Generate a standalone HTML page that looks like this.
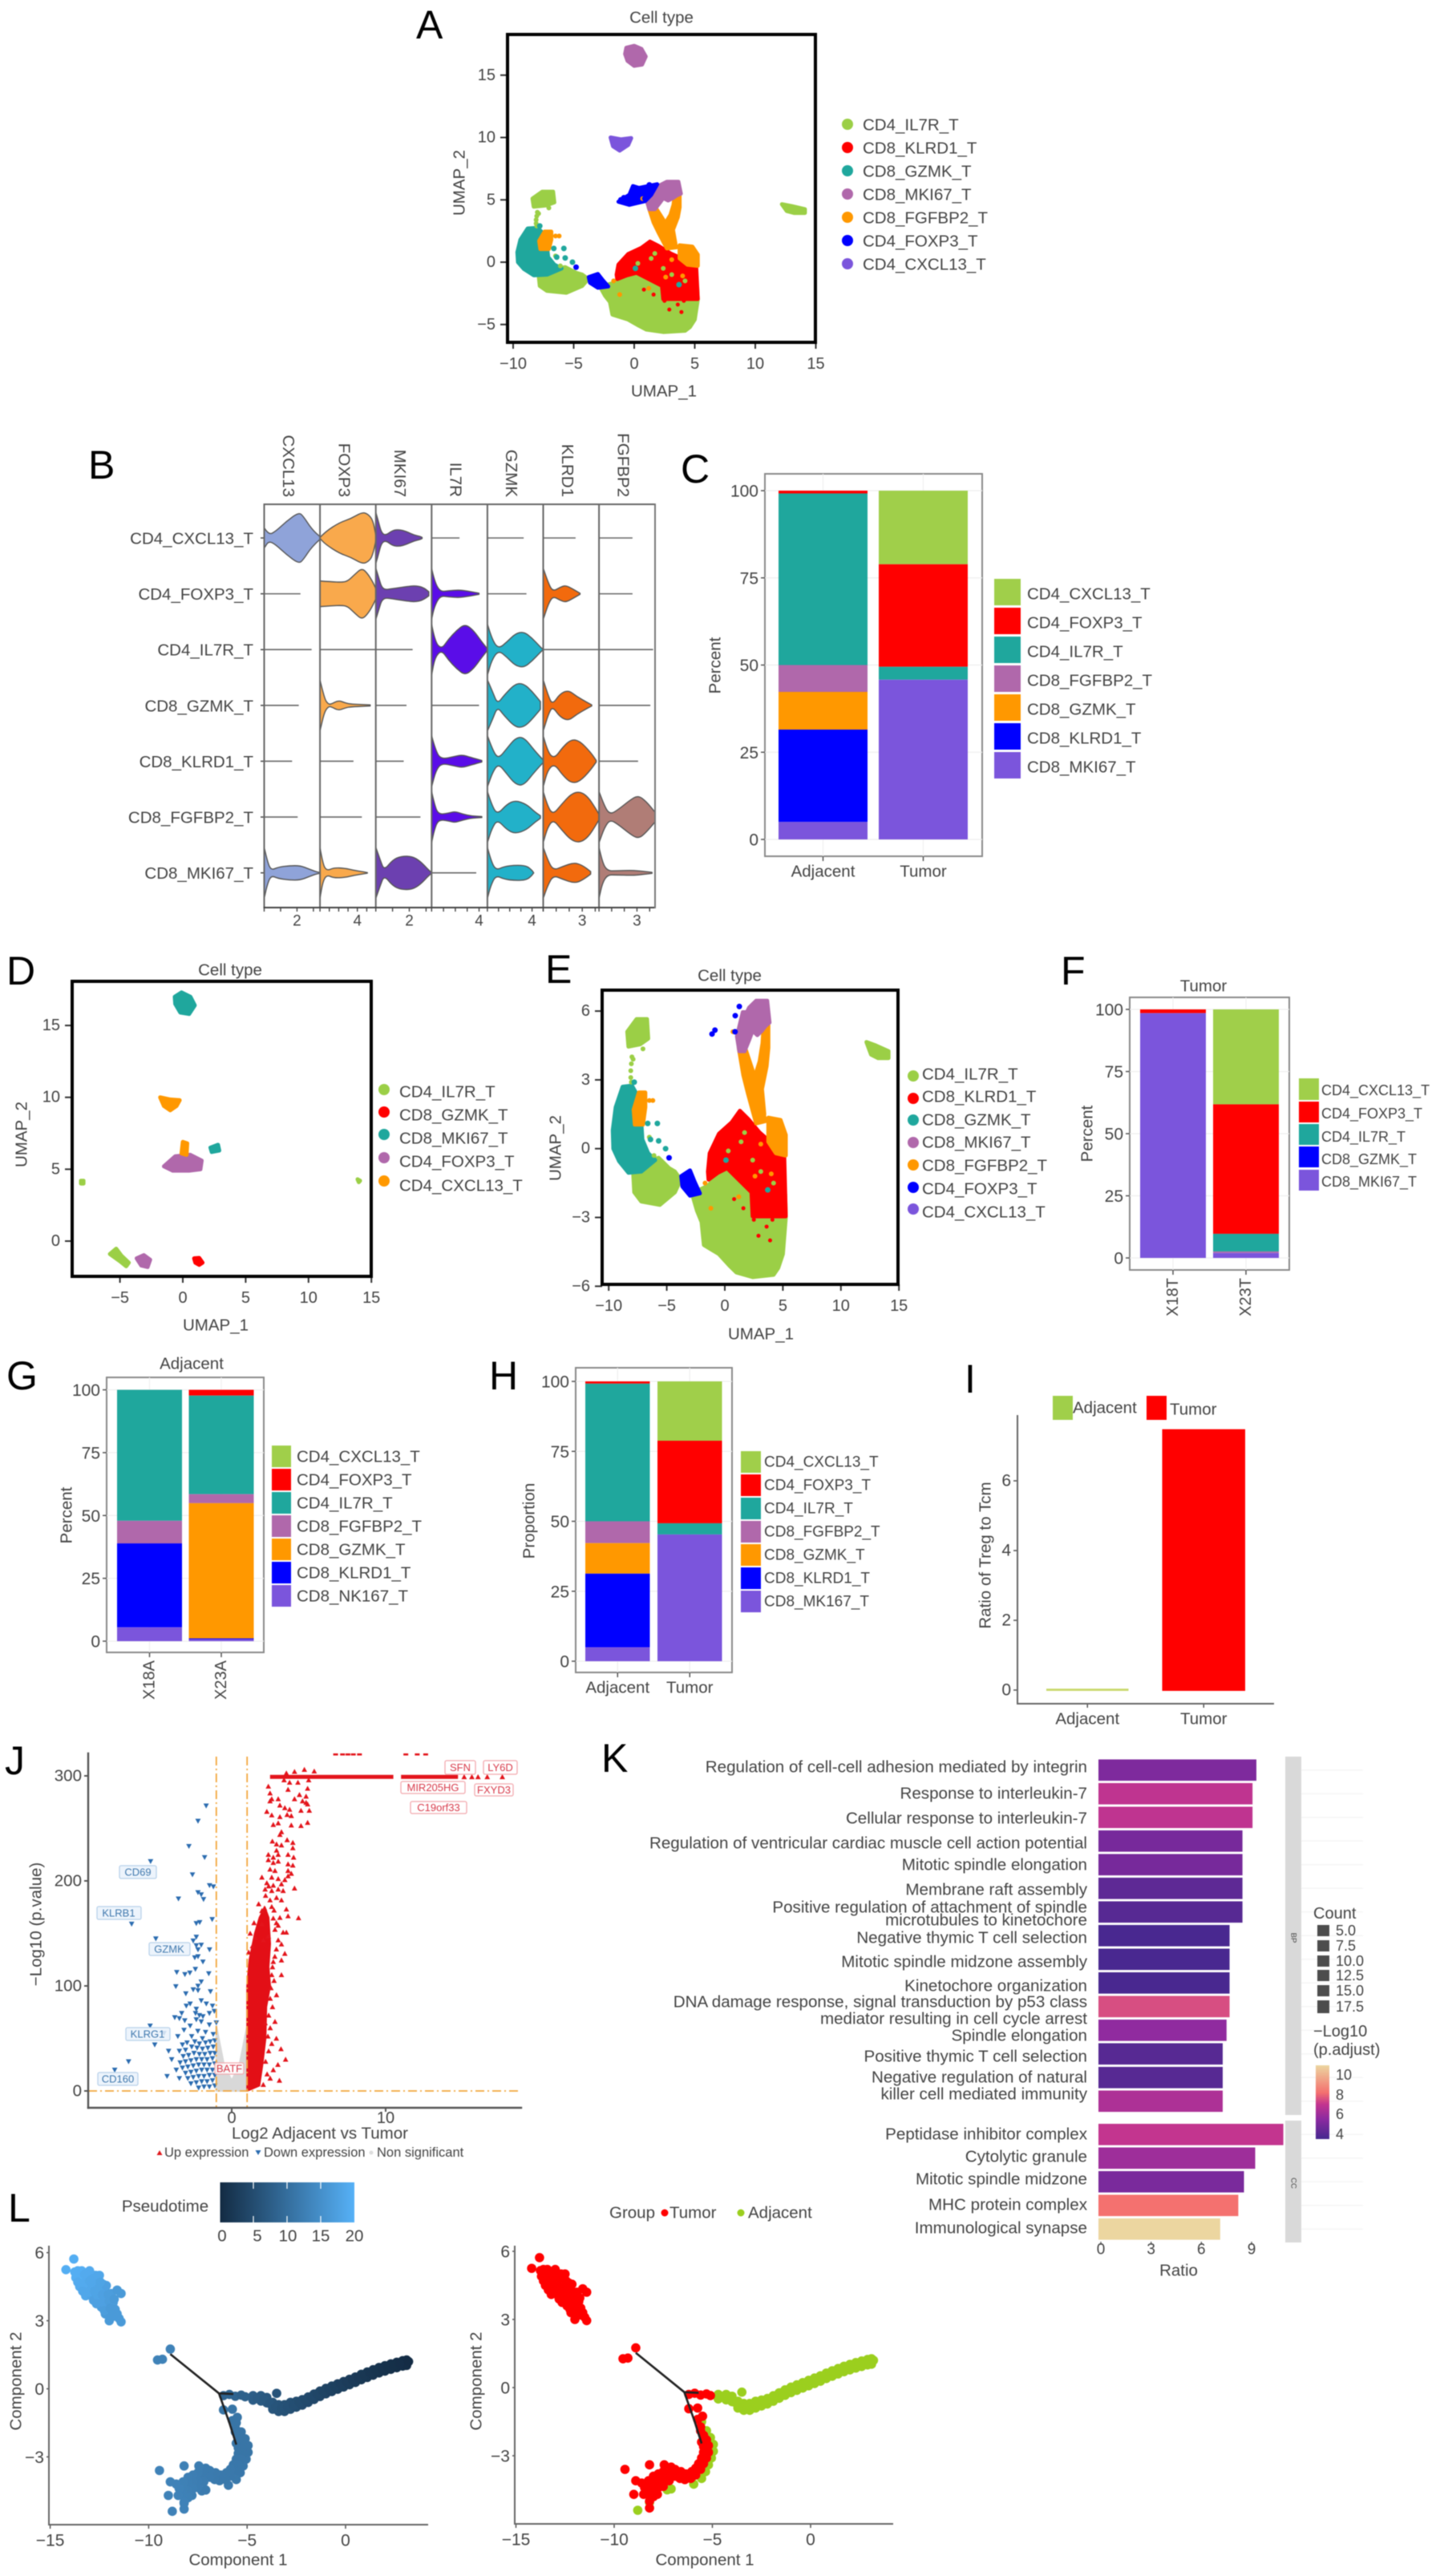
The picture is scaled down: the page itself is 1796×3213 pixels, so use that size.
<!DOCTYPE html>
<html lang="en">
<head>
<meta charset="utf-8">
<title>T cell subset analysis figure</title>
<style>
html,body{margin:0;padding:0;background:#fff}
svg{display:block;filter:blur(.5px)}
text{font-family:"Liberation Sans",sans-serif;fill:#444;dominant-baseline:central}
.letter{font-size:50px;fill:#000;dominant-baseline:auto}
.lg{font-size:20.5px}
.ax{font-size:20.5px}
.go{font-size:20.6px;text-anchor:end}
.gene{font-size:9.5px;text-anchor:middle}
</style>
</head>
<body>
<svg id="figure" xmlns="http://www.w3.org/2000/svg" width="1796" height="3213" viewBox="0 0 1796 3213">
<defs>
<linearGradient id="pseudoGrad" x1="0" x2="1" y1="0" y2="0"><stop offset="0" stop-color="#132B43"/><stop offset="1" stop-color="#56B1F7"/></linearGradient>
<linearGradient id="padjGrad" x1="0" x2="0" y1="0" y2="1"><stop offset="0" stop-color="#ecd6a0"/><stop offset="0.37" stop-color="#f4716f"/><stop offset="0.53" stop-color="#c3358f"/><stop offset="0.73" stop-color="#8c2aa0"/><stop offset="1" stop-color="#45288f"/></linearGradient>
<clipPath id="clipA"><rect x="633" y="43" width="384" height="384"/></clipPath>
<clipPath id="clipD"><rect x="90" y="1224" width="373" height="368"/></clipPath>
<clipPath id="clipE"><rect x="751" y="1235" width="369" height="367"/></clipPath>
</defs>
<rect width="1796" height="3213" fill="#fff"/>

<!-- panel letters -->
<text class="letter" x="519" y="48">A</text>
<text class="letter" x="110" y="597">B</text>
<text class="letter" x="849" y="602">C</text>
<text class="letter" x="8" y="1228">D</text>
<text class="letter" x="680" y="1226">E</text>
<text class="letter" x="1323" y="1228">F</text>
<text class="letter" x="8" y="1733">G</text>
<text class="letter" x="610" y="1733">H</text>
<text class="letter" x="1203" y="1737">I</text>
<text class="letter" x="6" y="2213">J</text>
<text class="letter" x="750" y="2210">K</text>
<text class="letter" x="10" y="2771">L</text>

<!-- Panel A -->
<g id="panelA"></g>
<text class="ax" x="825" y="22" text-anchor="middle">Cell type</text>
<text class="ax" x="828" y="488" text-anchor="middle">UMAP_1</text>
<text class="ax" transform="translate(573,228) rotate(-90)" text-anchor="middle">UMAP_2</text>
<g>
<circle cx="1057" cy="155" r="7" fill="#9bcf46"/><text class="lg" x="1076" y="156">CD4_IL7R_T</text>
<circle cx="1057" cy="184" r="7" fill="#ff0000"/><text class="lg" x="1076" y="185">CD8_KLRD1_T</text>
<circle cx="1057" cy="213" r="7" fill="#1fa79d"/><text class="lg" x="1076" y="214">CD8_GZMK_T</text>
<circle cx="1057" cy="242" r="7" fill="#b068ab"/><text class="lg" x="1076" y="243">CD8_MKI67_T</text>
<circle cx="1057" cy="271" r="7" fill="#ff9800"/><text class="lg" x="1076" y="272">CD8_FGFBP2_T</text>
<circle cx="1057" cy="300" r="7" fill="#0000ff"/><text class="lg" x="1076" y="301">CD4_FOXP3_T</text>
<circle cx="1057" cy="329" r="7" fill="#7b55dc"/><text class="lg" x="1076" y="330">CD4_CXCL13_T</text>
</g>

<!-- Panel B -->
<g id="panelB"></g>

<!-- Panel C -->
<g id="panelC"></g>
<text class="ax" transform="translate(892,830) rotate(-90)" text-anchor="middle">Percent</text>
<g>
<rect x="1240" y="722" width="33" height="33" fill="#a0cf4a"/><text class="lg" x="1281" y="741">CD4_CXCL13_T</text>
<rect x="1240" y="758" width="33" height="33" fill="#ff0000"/><text class="lg" x="1281" y="777">CD4_FOXP3_T</text>
<rect x="1240" y="794" width="33" height="33" fill="#1fa79d"/><text class="lg" x="1281" y="813">CD4_IL7R_T</text>
<rect x="1240" y="830" width="33" height="33" fill="#b068ab"/><text class="lg" x="1281" y="849">CD8_FGFBP2_T</text>
<rect x="1240" y="866" width="33" height="33" fill="#ff9800"/><text class="lg" x="1281" y="885">CD8_GZMK_T</text>
<rect x="1240" y="902" width="33" height="33" fill="#0000ff"/><text class="lg" x="1281" y="921">CD8_KLRD1_T</text>
<rect x="1240" y="938" width="33" height="33" fill="#7b55dc"/><text class="lg" x="1281" y="957">CD8_MKI67_T</text>
</g>

<!-- Panel D -->
<g id="panelD"></g>
<text class="ax" x="287" y="1210" text-anchor="middle">Cell type</text>
<text class="ax" x="269" y="1653" text-anchor="middle">UMAP_1</text>
<text class="ax" transform="translate(27,1415) rotate(-90)" text-anchor="middle">UMAP_2</text>
<g>
<circle cx="479" cy="1359" r="7" fill="#9bcf46"/><text class="lg" x="498" y="1362">CD4_IL7R_T</text>
<circle cx="479" cy="1387" r="7" fill="#ff0000"/><text class="lg" x="498" y="1391">CD8_GZMK_T</text>
<circle cx="479" cy="1415" r="7" fill="#1fa79d"/><text class="lg" x="498" y="1420">CD8_MKI67_T</text>
<circle cx="479" cy="1444" r="7" fill="#b068ab"/><text class="lg" x="498" y="1449">CD4_FOXP3_T</text>
<circle cx="479" cy="1473" r="7" fill="#ff9800"/><text class="lg" x="498" y="1479">CD4_CXCL13_T</text>
</g>

<!-- Panel E -->
<g id="panelE"></g>
<text class="ax" x="910" y="1217" text-anchor="middle">Cell type</text>
<text class="ax" x="949" y="1664" text-anchor="middle">UMAP_1</text>
<text class="ax" transform="translate(693,1432) rotate(-90)" text-anchor="middle">UMAP_2</text>
<g>
<circle cx="1139" cy="1342" r="7" fill="#9bcf46"/><text class="lg" x="1150" y="1340">CD4_IL7R_T</text>
<circle cx="1139" cy="1370" r="7" fill="#ff0000"/><text class="lg" x="1150" y="1368">CD8_KLRD1_T</text>
<circle cx="1139" cy="1397" r="7" fill="#1fa79d"/><text class="lg" x="1150" y="1397">CD8_GZMK_T</text>
<circle cx="1139" cy="1425" r="7" fill="#b068ab"/><text class="lg" x="1150" y="1425">CD8_MKI67_T</text>
<circle cx="1139" cy="1453" r="7" fill="#ff9800"/><text class="lg" x="1150" y="1454">CD8_FGFBP2_T</text>
<circle cx="1139" cy="1481" r="7" fill="#0000ff"/><text class="lg" x="1150" y="1483">CD4_FOXP3_T</text>
<circle cx="1139" cy="1508" r="7" fill="#7b55dc"/><text class="lg" x="1150" y="1512">CD4_CXCL13_T</text>
</g>

<!-- Panel F -->
<g id="panelF"></g>
<text class="ax" x="1501" y="1230" text-anchor="middle">Tumor</text>
<text class="ax" transform="translate(1356,1414) rotate(-90)" text-anchor="middle">Percent</text>
<g style="font-size:18px">
<rect x="1620" y="1345" width="25" height="27" fill="#a0cf4a"/><text x="1648" y="1360" style="font-size:18px">CD4_CXCL13_T</text>
<rect x="1620" y="1374" width="25" height="26" fill="#ff0000"/><text x="1648" y="1389" style="font-size:18px">CD4_FOXP3_T</text>
<rect x="1620" y="1402" width="25" height="26" fill="#1fa79d"/><text x="1648" y="1418" style="font-size:18px">CD4_IL7R_T</text>
<rect x="1620" y="1430" width="25" height="26" fill="#0000ff"/><text x="1648" y="1446" style="font-size:18px">CD8_GZMK_T</text>
<rect x="1620" y="1459" width="25" height="26" fill="#7b55dc"/><text x="1648" y="1474" style="font-size:18px">CD8_MKI67_T</text>
</g>

<!-- Panel G -->
<g id="panelG"></g>
<text class="ax" x="239" y="1701" text-anchor="middle">Adjacent</text>
<text class="ax" transform="translate(83,1890) rotate(-90)" text-anchor="middle">Percent</text>
<g>
<rect x="339" y="1803" width="24" height="27" fill="#a0cf4a"/><text class="lg" x="370" y="1817">CD4_CXCL13_T</text>
<rect x="339" y="1832" width="24" height="27" fill="#ff0000"/><text class="lg" x="370" y="1846">CD4_FOXP3_T</text>
<rect x="339" y="1861" width="24" height="27" fill="#1fa79d"/><text class="lg" x="370" y="1875">CD4_IL7R_T</text>
<rect x="339" y="1890" width="24" height="27" fill="#b068ab"/><text class="lg" x="370" y="1904">CD8_FGFBP2_T</text>
<rect x="339" y="1919" width="24" height="27" fill="#ff9800"/><text class="lg" x="370" y="1933">CD8_GZMK_T</text>
<rect x="339" y="1948" width="24" height="27" fill="#0000ff"/><text class="lg" x="370" y="1962">CD8_KLRD1_T</text>
<rect x="339" y="1977" width="24" height="27" fill="#7b55dc"/><text class="lg" x="370" y="1991">CD8_NK167_T</text>
</g>

<!-- Panel H -->
<g id="panelH"></g>
<text class="ax" transform="translate(660,1897) rotate(-90)" text-anchor="middle">Proportion</text>
<g>
<rect x="924" y="1810" width="25" height="27" fill="#a0cf4a"/><text x="953" y="1824" style="font-size:19px">CD4_CXCL13_T</text>
<rect x="924" y="1839" width="25" height="27" fill="#ff0000"/><text x="953" y="1853" style="font-size:19px">CD4_FOXP3_T</text>
<rect x="924" y="1868" width="25" height="27" fill="#1fa79d"/><text x="953" y="1882" style="font-size:19px">CD4_IL7R_T</text>
<rect x="924" y="1897" width="25" height="27" fill="#b068ab"/><text x="953" y="1911" style="font-size:19px">CD8_FGFBP2_T</text>
<rect x="924" y="1926" width="25" height="27" fill="#ff9800"/><text x="953" y="1940" style="font-size:19px">CD8_GZMK_T</text>
<rect x="924" y="1955" width="25" height="27" fill="#0000ff"/><text x="953" y="1969" style="font-size:19px">CD8_KLRD1_T</text>
<rect x="924" y="1984" width="25" height="27" fill="#7b55dc"/><text x="953" y="1998" style="font-size:19px">CD8_MK167_T</text>
</g>

<!-- Panel I -->
<g id="panelI"></g>
<text class="ax" transform="translate(1229,1940) rotate(-90)" text-anchor="middle">Ratio of Treg to Tcm</text>
<g>
<rect x="1313" y="1741" width="25" height="30" fill="#a0cf4a"/><text class="lg" x="1338" y="1756">Adjacent</text>
<rect x="1430" y="1741" width="25" height="30" fill="#ff0000"/><text class="lg" x="1459" y="1758">Tumor</text>
</g>

<!-- Panel J -->
<g id="panelJ"></g>
<text class="ax" transform="translate(45,2400) rotate(-90)" text-anchor="middle">−Log10 (p.value)</text>
<text class="ax" x="399" y="2661" text-anchor="middle">Log2 Adjacent vs Tumor</text>
<g>
<path d="M199 2682l3.5 6h-7z" fill="#e0181c"/><text x="205" y="2685" style="font-size:16.5px">Up expression</text>
<path d="M322 2688l3.5-6h-7z" fill="#2b6cb0"/><text x="329" y="2685" style="font-size:16.5px">Down expression</text>
<circle cx="463" cy="2685" r="2.5" fill="#ddd"/><text x="470" y="2685" style="font-size:16.5px">Non significant</text>
</g>
<g style="font-size:13px">
<g fill="#fff" fill-opacity=".85" stroke="#f3a9ae" stroke-width="1.3">
<rect x="555" y="2196" width="38" height="17" rx="2"/>
<rect x="603" y="2196" width="42" height="17" rx="2"/>
<rect x="500" y="2222" width="80" height="15" rx="2"/>
<rect x="592" y="2225" width="48" height="15" rx="2"/>
<rect x="512" y="2247" width="70" height="15" rx="2"/>
<rect x="268" y="2573" width="36" height="14" rx="2"/>
</g>
<g fill="#eaf2fb" fill-opacity=".85" stroke="#b9d2ea" stroke-width="1.3">
<rect x="149" y="2327" width="46" height="16" rx="2"/>
<rect x="121" y="2378" width="55" height="16" rx="2"/>
<rect x="186" y="2423" width="51" height="16" rx="2"/>
<rect x="157" y="2529" width="55" height="16" rx="2"/>
<rect x="122" y="2585" width="50" height="16" rx="2"/>
</g>
<g style="font-size:13px" text-anchor="middle">
<text x="574" y="2204.5" style="fill:#d83a4a;font-size:13px">SFN</text>
<text x="624" y="2204.5" style="fill:#d83a4a;font-size:13px">LY6D</text>
<text x="540" y="2229.5" style="fill:#d83a4a;font-size:13px">MIR205HG</text>
<text x="616" y="2232.5" style="fill:#d83a4a;font-size:13px">FXYD3</text>
<text x="547" y="2254.5" style="fill:#d83a4a;font-size:13px">C19orf33</text>
<text x="286" y="2580" style="fill:#d83a4a;font-size:13px">BATF</text>
<text x="172" y="2335" style="fill:#3f78ad;font-size:13px">CD69</text>
<text x="148" y="2386" style="fill:#3f78ad;font-size:13px">KLRB1</text>
<text x="211" y="2431" style="fill:#3f78ad;font-size:13px">GZMK</text>
<text x="184" y="2537" style="fill:#3f78ad;font-size:13px">KLRG1</text>
<text x="147" y="2593" style="fill:#3f78ad;font-size:13px">CD160</text>
</g>
</g>

<!-- Panel K -->
<g id="panelK"></g>
<g>
<text class="go" x="1356" y="2204">Regulation of cell-cell adhesion mediated by integrin</text>
<text class="go" x="1356" y="2237">Response to interleukin-7</text>
<text class="go" x="1356" y="2268">Cellular response to interleukin-7</text>
<text class="go" x="1356" y="2299">Regulation of ventricular cardiac muscle cell action potential</text>
<text class="go" x="1356" y="2326">Mitotic spindle elongation</text>
<text class="go" x="1356" y="2357">Membrane raft assembly</text>
<text class="go" x="1356" y="2379">Positive regulation of attachment of spindle</text>
<text class="go" x="1356" y="2395">microtubules to kinetochore</text>
<text class="go" x="1356" y="2417">Negative thymic T cell selection</text>
<text class="go" x="1356" y="2447">Mitotic spindle midzone assembly</text>
<text class="go" x="1356" y="2477">Kinetochore organization</text>
<text class="go" x="1356" y="2497">DNA damage response, signal transduction by p53 class</text>
<text class="go" x="1356" y="2518">mediator resulting in cell cycle arrest</text>
<text class="go" x="1356" y="2539">Spindle elongation</text>
<text class="go" x="1356" y="2565">Positive thymic T cell selection</text>
<text class="go" x="1356" y="2591">Negative regulation of natural</text>
<text class="go" x="1356" y="2612">killer cell mediated immunity</text>
<text class="go" x="1356" y="2662">Peptidase inhibitor complex</text>
<text class="go" x="1356" y="2690">Cytolytic granule</text>
<text class="go" x="1356" y="2718">Mitotic spindle midzone</text>
<text class="go" x="1356" y="2750">MHC protein complex</text>
<text class="go" x="1356" y="2779">Immunological synapse</text>
</g>
<rect x="1603" y="2191" width="20" height="447" fill="#d9d9d9"/>
<rect x="1603" y="2645" width="20" height="152" fill="#d9d9d9"/>
<text class="gene" transform="translate(1613,2417) rotate(90)">BP</text>
<text class="gene" transform="translate(1613,2723) rotate(90)">CC</text>
<text class="ax" x="1470" y="2832" text-anchor="middle">Ratio</text>
<text x="1638" y="2387" style="font-size:20px">Count</text>
<g>
<rect x="1643" y="2401" width="15" height="14" fill="#4d4d4d"/><text x="1666" y="2408" style="font-size:18px">5.0</text>
<rect x="1643" y="2420" width="15" height="14" fill="#4d4d4d"/><text x="1666" y="2427" style="font-size:18px">7.5</text>
<rect x="1643" y="2439" width="15" height="14" fill="#4d4d4d"/><text x="1666" y="2446" style="font-size:18px">10.0</text>
<rect x="1643" y="2457" width="15" height="14" fill="#4d4d4d"/><text x="1666" y="2464" style="font-size:18px">12.5</text>
<rect x="1643" y="2476" width="15" height="14" fill="#4d4d4d"/><text x="1666" y="2483" style="font-size:18px">15.0</text>
<rect x="1643" y="2495" width="15" height="16" fill="#4d4d4d"/><text x="1666" y="2503" style="font-size:18px">17.5</text>
</g>
<text x="1638" y="2534" style="font-size:20px">−Log10</text>
<text x="1638" y="2557" style="font-size:20px">(p.adjust)</text>
<rect x="1641" y="2576" width="17" height="92" fill="url(#padjGrad)"/>
<text x="1666" y="2588" style="font-size:18px">10</text>
<text x="1666" y="2613" style="font-size:18px">8</text>
<text x="1666" y="2637" style="font-size:18px">6</text>
<text x="1666" y="2662" style="font-size:18px">4</text>

<!-- Panel L -->
<g id="panelL1"></g>
<g id="panelL2"></g>
<text class="ax" x="206" y="2752" text-anchor="middle">Pseudotime</text>
<rect x="274.5" y="2722" width="167.5" height="50" fill="url(#pseudoGrad)"/>
<g stroke="#fff" stroke-width="1.2">
<path d="M316 2722v8M316 2764v8M358 2722v8M358 2764v8M400 2722v8M400 2764v8" fill="none"/>
</g>
<g text-anchor="middle">
<text class="ax" x="277" y="2789">0</text>
<text class="ax" x="321" y="2789">5</text>
<text class="ax" x="359" y="2789">10</text>
<text class="ax" x="400" y="2789">15</text>
<text class="ax" x="442" y="2789">20</text>
</g>
<text class="ax" x="297" y="3193" text-anchor="middle">Component 1</text>
<text class="ax" transform="translate(20,2970) rotate(-90)" text-anchor="middle">Component 2</text>
<text class="ax" x="879" y="3193" text-anchor="middle">Component 1</text>
<text class="ax" transform="translate(594,2970) rotate(-90)" text-anchor="middle">Component 2</text>
<g>
<text class="ax" x="760" y="2760">Group</text>
<circle cx="829" cy="2760" r="4.5" fill="#ff0000"/>
<text class="ax" x="835" y="2760">Tumor</text>
<circle cx="924" cy="2760" r="4.5" fill="#9bcf1e"/>
<text class="ax" x="933" y="2760">Adjacent</text>
</g>
</svg>

<script>
/* ---------- shared stacked-bar series ---------- */
const stackColors7 = ['#a0cf4a','#ff0000','#1fa79d','#b068ab','#ff9800','#0000ff','#7b55dc'];
const stackColors5 = ['#a0cf4a','#ff0000','#1fa79d','#b068ab','#7b55dc'];
const percentTicks = [0,25,50,75,100];

const panelCCategories = ['Adjacent','Tumor'];
const panelCAdjacent = [0,0.8,49.2,7.7,10.8,26.5,5.0];
const panelCTumor = [21.1,29.4,3.7,0,0,0,45.8];

const panelFCategories = ['X18T','X23T'];
const panelFX18T = [0,1.5,0,0,98.5];
const panelFX23T = [38.2,52.1,7.1,0.6,2.0];

const panelGCategories = ['X18A','X23A'];
const panelGX18A = [0,0,52.1,9.0,0,33.4,5.5];
const panelGX23A = [0,2.3,39.2,3.6,53.8,0.3,0.8];

const panelHCategories = ['Adjacent','Tumor'];
const panelHAdjacent = [0,0.8,49.2,7.8,10.9,26.3,5.0];
const panelHTumor = [21.2,29.5,4.0,0,0,0,45.3];

const panelICategories = ['Adjacent','Tumor'];
const panelIValues = [0.04,7.48];
const panelITicks = [0,2,4,6];

/* ---------- UMAP regions: outlines read in UMAP units ---------- */
const regionIL7R = [
 [[-2.8,-2],[-2.2,-1.8],[-1.4,-1.6],[-0.4,-1],[0.2,-0.8],[1,-1.2],[3,-2.4],[5.2,-2],[5.25,-3],[5,-4.6],[4.6,-5.2],[4.2,-5.5],[2.4,-5.6],[1,-5.4],[0.4,-5.1],[-0.5,-4.6],[-1.8,-4.2],[-2,-3.2],[-2.4,-2.7]],
 [[-7.9,-0.95],[-6.6,-0.55],[-5.7,-0.4],[-4.8,-0.85],[-4.3,-1.0],[-3.8,-1.35],[-4.3,-1.9],[-5.6,-2.45],[-7.2,-2.3],[-7.8,-1.9]],
 [[-8.4,5.1],[-7.6,5.65],[-6.7,5.65],[-6.6,4.8],[-7.3,4.55],[-8.3,4.45]],
 [[12.2,4.65],[13,4.5],[14.1,4.25],[14.1,3.95],[13.2,3.95],[12.6,4.1]]
];
const regionGZMK = [
 [[-8.8,2.7],[-8,2.75],[-7.5,2.3],[-7.2,1.2],[-7.1,0.4],[-6.6,-0.2],[-6,-0.5],[-7.2,-1],[-8.3,-1.05],[-9.1,-0.55],[-9.6,0],[-9.65,0.8],[-9.4,1.8]]
];
const regionKLRD1 = [
 [[-1.45,-1],[-1.3,-0.2],[-0.5,0.65],[0.6,1.15],[1.3,1.65],[2,1.3],[3,0.7],[3.9,0.3],[5.1,0],[5.25,-2.95],[2.4,-2.95],[2.3,-1.9],[1,-1.25],[0.2,-0.85],[-0.6,-1.05],[-1.4,-1.35]]
];
const regionFGFBP2 = [
 [[3.75,1.35],[4.8,1.25],[5.25,0.6],[5.25,-0.3],[4.4,-0.2],[3.75,0.3]],
 [[1.2,4.4],[1.75,4.4],[2.4,3.4],[2.7,2.8],[3.5,1.2],[2.7,1.1],[2,2.4],[1.6,3.2]],
 [[3.35,5.4],[3.75,5.4],[3.75,4.4],[3.6,3.6],[3.2,2.6],[3.4,1.5],[2.7,1.9],[2.5,3],[3,3.8],[3.25,4.6]],
 [[-7.4,2.45],[-6.85,2.45],[-6.85,1.8],[-7.05,1.05],[-7.75,1.05],[-7.85,1.7]]
];
const regionMKI67 = [
 [[1.55,5.95],[1.9,5.95],[2.1,6.15],[2.7,6.45],[3.65,6.45],[3.85,5.5],[3.5,5.35],[3.2,5.15],[2.8,4.95],[2.4,5.15],[2.1,4.75],[1.7,4.25],[1.25,4.25],[1.05,4.9]],
 [[-0.65,17.2],[0,17.35],[0.6,17.1],[0.95,16.5],[0.65,15.85],[0,15.75],[-0.55,16.15],[-0.75,16.7]]
];
const regionFOXP3 = [
 [[-3.75,-1.2],[-3,-0.95],[-2.6,-1.45],[-2.15,-1.95],[-3,-2.05],[-3.65,-1.65]]
];
const regionFOXP3Full = [
 [[-1.3,4.85],[-0.4,5.4],[-0.1,6.1],[0.4,5.95],[1.9,6.25],[1.4,5.4],[0.9,4.9],[-0.4,4.6]]
];
const regionCXCL13 = [
 [[-1.95,10],[-1.1,9.85],[-0.25,9.95],[-0.5,9.4],[-1.2,8.95],[-1.75,9.3]]
];
const dotsIL7R = [[-8,4],[-8.05,3.7],[-8.1,3.4],[-8.1,3.1],[-8.05,2.9],[-7.9,3.9],[-7.05,4.35],[-7.1,4.7],[-6.5,0.5],[-6.1,-0.3],[1.7,0.7],[2.4,-0.5],[0.3,-0.1],[3.1,-1],[1.4,0.3],[4.2,-1.5]];
const dotsGZMK = [[-6.64,1.1],[-5.81,1.1],[-5.7,0.34],[-5.1,0],[-6.4,0.4],[-7.8,2.9],[0.1,-0.5],[3.7,-1.8]];
const dotsFGFBP2 = [[-6.2,2.1],[-6.5,2.1],[2.6,-1.2],[1.2,-2.1],[4,-1.1],[3.1,0.2],[-1.7,-1.5],[-1.2,-2.6],[0.7,5.1]];
const dotsKLRD1 = [[2.5,-3.1],[3.6,-3.4],[3.9,-4],[1.6,-2.6],[0.8,-2.2],[4.1,-3.1],[2.9,-3.8]];
const dotsFOXP3 = [[1.25,6.2],[0.9,5.8],[-0.85,5.17],[-1.1,5],[0.88,5.1],[-4.8,-0.4]];

/* panel D cluster outlines, same units */
const regionDGreen = [[[-5.8,-0.9],[-5.3,-0.53],[-4.9,-1],[-4.3,-1.5],[-4.5,-1.75],[-5,-1.4]],[[-8.1,4.2],[-7.9,4.2],[-7.9,4],[-8.1,4]],[[13.9,4.3],[14.1,4.2],[14,4.1]]];
const regionDRed = [[[0.9,-1.2],[1.3,-1.17],[1.57,-1.5],[1.3,-1.65],[1,-1.5]]];
const regionDTeal = [[[-0.64,17],[-0.1,17.3],[0.6,17],[0.95,16.4],[0.5,15.8],[-0.2,15.9],[-0.6,16.5]],[[2.2,6.5],[2.8,6.7],[2.9,6.3],[2.3,6.2]]];
const regionDMauve = [[[-1.5,5.2],[-0.6,5.9],[0.6,6],[1.5,5.6],[1.4,5],[0.5,4.9],[-0.8,4.9]],[[-3.67,-1.2],[-3.1,-0.98],[-2.6,-1.3],[-2.8,-1.8],[-3.3,-1.7]]];
const regionDOrange = [[[-1.8,10],[-1,9.85],[-0.25,9.8],[-0.5,9.4],[-1,9.1],[-1.5,9.4]],[[0,6.9],[0.35,6.8],[0.3,6],[-0.1,6.1]]];

/* ---------- violin density: [position along panel, relative half height] ---------- */
const violinGenes = ['CXCL13','FOXP3','MKI67','IL7R','GZMK','KLRD1','FGFBP2'];
const violinCellTypes = ['CD4_CXCL13_T','CD4_FOXP3_T','CD4_IL7R_T','CD8_GZMK_T','CD8_KLRD1_T','CD8_FGFBP2_T','CD8_MKI67_T'];
const violinColors = ['#8fa3d9','#f9a94c','#6c40b0','#5a0de8','#22b1c9','#f26a0d','#b07d76'];
const violinAxisMax = [3.4,5.97,3.33,4.7,5,4.29,4.41];
const violinTickLabels = [2,4,2,4,4,3,3];
const violinRow1 = [
 [[0,.4],[.08,.12],[.2,.25],[.4,.65],[.62,1],[.7,.85],[.85,.35],[1,.05]],
 [[0,.02],[.1,.25],[.35,.6],[.55,.75],[.75,1],[.85,.95],[.95,.7],[1,.1]],
 [[0,1],[.04,.7],[.1,.2],[.18,.1],[.3,.3],[.42,.33],[.55,.25],[.68,.12],[.8,.06],[.83,.02]],
 [[0,0],[.5,0]],[[0,0],[.65,0]],[[0,0],[.58,0]],[[0,0],[.6,0]]];
const violinRow2 = [
 [[0,0],[.65,0]],
 [[0,.5],[.2,.47],[.4,.45],[.5,.5],[.62,.75],[.75,1],[.85,.8],[.95,.45],[1,.2]],
 [[0,1],[.05,.65],[.12,.15],[.3,.2],[.55,.28],[.7,.32],[.85,.25],[.95,.08]],
 [[0,1],[.05,.5],[.15,.08],[.3,.12],[.5,.15],[.65,.1],[.78,.05],[.85,.02]],
 [[0,0],[.7,0]],
 [[0,1],[.1,.35],[.18,.1],[.3,.25],[.4,.33],[.52,.2],[.66,.02]],
 [[0,0],[.6,0]]];
const violinRow3 = [
 [[0,0],[.85,0]],[[0,0],[1,0]],[[0,0],[.66,0]],
 [[0,1],[.06,.3],[.18,.02],[.3,.4],[.45,.75],[.6,1],[.75,.75],[.9,.3],[1,.03]],
 [[0,1],[.08,.4],[.2,.03],[.35,.3],[.5,.62],[.65,.7],[.8,.45],[.95,.1],[1,0]],
 [[0,0],[1,0]],[[0,0],[.97,0]]];
const violinRow4 = [
 [[0,0],[.62,0]],
 [[0,1],[.08,.25],[.15,.05],[.2,.05],[.33,.2],[.45,.1],[.55,.05],[.9,.02]],
 [[0,0],[.55,0]],[[0,0],[.85,0]],
 [[0,1],[.1,.5],[.18,.06],[.3,.4],[.5,.85],[.65,.85],[.8,.55],[.95,.15]],
 [[0,1],[.1,.3],[.17,.05],[.3,.45],[.45,.6],[.6,.35],[.8,.1],[.87,.02]],
 [[0,0],[.92,0]]];
const violinRow5 = [
 [[0,0],[.5,0]],[[0,0],[.6,0]],[[0,0],[.5,0]],
 [[0,1],[.08,.35],[.18,.08],[.4,.18],[.55,.25],[.7,.15],[.9,.03]],
 [[0,1],[.1,.4],[.2,.1],[.35,.5],[.5,.9],[.65,.95],[.85,.4],[1,.05]],
 [[0,1],[.08,.35],[.2,.1],[.35,.55],[.5,.85],[.65,.8],[.85,.35],[.95,.03]],
 [[0,0],[.7,0]]];
const violinRow6 = [
 [[0,0],[.6,0]],[[0,0],[.75,0]],[[0,0],[.8,0]],
 [[0,1],[.05,.5],[.12,.1],[.3,.15],[.42,.22],[.55,.12],[.72,.04],[.9,.02]],
 [[0,1],[.08,.45],[.18,.1],[.35,.5],[.5,.65],[.7,.5],[.85,.2],[.95,.05]],
 [[0,1],[.08,.4],[.18,.1],[.33,.5],[.5,.9],[.65,1],[.8,.8],[.95,.3],[1,.1]],
 [[0,1],[.1,.4],[.2,.1],[.35,.3],[.55,.65],[.7,.85],[.85,.6],[1,.2]]];
const violinRow7 = [
 [[0,1],[.05,.5],[.12,.1],[.25,.22],[.45,.28],[.65,.28],[.8,.15],[.95,.03],[1,.02]],
 [[0,1],[.05,.35],[.12,.08],[.25,.2],[.45,.18],[.6,.1],[.8,.03],[.85,.01]],
 [[0,1],[.08,.5],[.15,.1],[.3,.5],[.45,.65],[.65,.65],[.8,.45],[.95,.1],[1,.02]],
 [[0,0],[.8,0]],
 [[0,1],[.06,.5],[.15,.1],[.3,.25],[.5,.3],[.7,.28],[.8,.1],[.83,0]],
 [[0,1],[.08,.5],[.18,.1],[.35,.25],[.55,.4],[.7,.3],[.85,.05]],
 [[0,1],[.06,.4],[.15,.08],[.3,.08],[.6,.1],[.8,.06],[.95,.02]]];

/* ---------- volcano values: [log2 fold change, -log10 p] ---------- */
const volcanoUp = [[3.55,302.6],[4.08,304],[4.72,306],[5.36,304.4],[3.76,293.7],[4.3,293.7],[2.38,290],[3.66,287],[4.93,288],[2.49,283.5],[2.6,278],[3.02,278],[2.49,276],[4.08,278],[4.4,282],[4.83,280.5],[4.6,276],[4.83,274.6],[4.93,273],[3.13,272],[3.45,269.5],[3.76,268],[2.28,266],[4.5,267],[5.04,267],[2.6,262.6],[3.13,261],[3.6,263],[3.87,262],[2.7,253.5],[3.02,255],[3.87,253],[4.5,252.5],[4.93,255.5],[3.23,246.6],[3.13,244],[2.64,237.7],[2.91,235],[3.23,234],[3.6,239],[3.97,236.4],[3.97,231.3],[2.91,229],[2.38,225],[2.7,222.4],[3.02,225],[3.66,225],[4.02,222.4],[2.38,220],[2.7,217.3],[3.02,218.6],[3.66,216],[3.97,214.8],[2.49,211],[2.81,209.7],[3.66,209.7],[3.87,207],[1.96,203.4],[2.6,203.4],[3.02,202],[2.28,198],[3.45,201],[3.23,197],[2.7,195.7],[3.66,204.6],[2.17,192],[2.6,190.6],[3.02,192],[3.34,190.6],[4.08,193],[2.91,184],[2.49,181.7],[3.23,181.7],[2.13,174],[2.6,175.4],[1.96,171.5],[3.55,173],[3.66,166.5],[4.34,164.7],[3.13,165],[2.7,164.4],[3.02,157.6],[3.34,151],[3.55,151],[2.81,153.7],[1.96,159],[1.53,146],[2.06,143.6],[2.38,147.4],[3.02,143.6],[3.23,139.7],[3.45,130.8],[3.23,124.5],[2.7,123],[3.23,110.5],[2.6,110.5],[2.91,91.4],[2.81,66],[2.17,64.7],[2.9,50],[3.2,40],[2.6,45],[3,25],[2.7,20],[3.5,30],[3.1,10],[2.5,12],[15.1,299],[15.6,299],[16,299],[16.6,299],[17.58,299],[5,296],[3.4,296],[2.9,135],[2.8,128],[2.65,118],[2.75,105],[2.55,98],[2.5,88],[2.65,80],[2.4,72],[2.5,60],[2.35,52],[2.4,38],[2.2,28],[2.3,16],[2.05,6],[1.2,150],[1.35,138],[1.1,132],[1.45,160],[1.75,178],[2.2,186],[2.4,195],[2.75,172],[2.9,160]];
const volcanoClippedLog2 = [6.75,7.2,7.55,7.9,8.3,11.31,12.05,12.6];
const volcanoClippedLevel = 320.4;
const volcanoPlateau = [2.49,10.5,11,14.7];
const volcanoPlateauLevel = 299;
const volcanoUpDense = [[1,0],[1,60],[1,100],[1.15,125],[1.5,150],[1.8,165],[2.15,175],[2.4,165],[2.5,140],[2.4,118],[2.5,100],[2.25,80],[2.2,50],[2,25],[1.8,5]];
const volcanoDown = [[-1.66,271.5],[-2.19,257],[-2.78,233],[-1.76,222.4],[-5.27,218.6],[-2.55,206],[-1.44,195.7],[-1.19,194.5],[-2.19,189],[-1.98,187],[-1.83,182.5],[-3.46,183],[-1.27,163.4],[-2.3,159.6],[-2.08,160.6],[-6.5,159],[-4.93,145],[-2.3,146.6],[-2.5,143],[-2.3,138.5],[-1.98,139],[-2.19,134.6],[-1.44,134.6],[-2.4,127],[-2.19,128],[-1.87,123],[-2.36,116],[-3.57,113],[-3.04,111],[-2.72,112.5],[-1.49,111.8],[-1.98,104],[-3.63,99.5],[-2.19,100],[-2.5,96.5],[-2.19,95.7],[-1.38,94.7],[-2.98,92.7],[-1.98,86],[-2.7,83],[-2.95,81],[-1.65,83],[-1.25,81],[-2.3,78],[-3.25,74],[-2.35,74],[-2.1,72],[-1.45,74],[-3.7,70],[-3.4,69],[-3.05,67],[-2.3,68],[-1.87,71],[-1.13,76],[-1,65],[-1.98,66],[-1.45,63],[-2.7,62],[-3.1,58],[-2.2,57],[-1.7,56],[-1.2,54],[-3.5,52],[-2.6,52],[-1.9,50],[-5.3,62],[-4.4,55],[-7.6,20],[-6.7,28],[-5,44],[-4.1,38],[-3.9,30],[-3.6,20],[-4.2,14],[-3.4,12],
 [-1.1,48],[-1.4,47],[-1.7,46],[-2.1,45],[-2.4,47],[-2.9,46],[-3.2,44],[-1.2,42],[-1.55,41],[-1.9,40],[-2.25,41],[-2.6,42],[-3,39],[-3.4,38],[-1.1,36],[-1.4,36],[-1.75,35],[-2.1,35],[-2.45,36],[-2.8,34],[-3.15,33],[-1.25,31],[-1.6,30],[-1.95,30],[-2.3,30],[-2.65,29],[-3,28],[-3.35,27],[-1.1,26],[-1.45,25],[-1.8,25],[-2.15,25],[-2.5,24],[-2.85,23],[-3.2,22],[-1.25,20],[-1.6,20],[-1.95,20],[-2.3,19],[-2.65,18],[-3,17],[-1.1,15],[-1.45,15],[-1.8,14],[-2.15,14],[-2.5,13],[-2.85,12],[-1.25,10],[-1.6,9],[-1.95,9],[-2.3,8],[-2.65,7],[-1.1,5],[-1.45,4],[-1.8,4],[-2.15,3]];
const volcanoNonSig = [[-1,0],[-1,62],[-0.5,25],[0,10],[0.5,25],[1,62],[1,0]];
const volcanoXTicks = [0,10];
const volcanoYTicks = [0,100,200,300];
const volcanoThresholdLog2 = [-1,1];

/* ---------- GO enrichment ---------- */
const goRatioBP = [9.43,9.2,9.2,8.6,8.6,8.6,8.6,7.83,7.83,7.83,7.83,7.65,7.42,7.42,7.42];
const goPadjBP = [5.1,6.9,6.9,4.9,4.9,4.2,4.0,3.6,3.6,3.6,7.5,5.6,4.0,4.0,6.4];
const goRatioCC = [11.04,9.36,8.69,8.35,7.27];
const goPadjCC = [7.0,6.0,5.0,8.2,11];
const goXTicks = [0,3,6,9];

/* ---------- trajectory cells: [component 1, component 2, pseudotime] ---------- */
const trajTopCells = [[-14.2,5.25,19.5],[-13.8,5.72,19.5],[-13.6,5.2,19.5],[-13.4,5.2,19.5],[-13.7,4.9,19.5],[-13.4,4.8,19],[-13.1,4.9,19],[-13.5,4.5,19],[-13.2,4.4,19],[-12.9,4.6,18.5],[-12.7,4.8,18.5],[-12.7,5,18.5],[-12.5,5,18.5],[-13.2,4.1,18.5],[-12.9,4.1,18],[-12.6,4.4,18],[-12.3,4.6,18],[-12.2,4.3,17.5],[-12.8,3.9,17.5],[-12.5,3.9,17.5],[-12.2,4,17.5],[-11.9,4.2,17],[-12.4,3.6,17],[-12.1,3.6,17],[-11.8,3.8,17],[-11.7,3.5,16.5],[-12.2,3.3,16.5],[-11.9,3.2,16.5],[-12,3,16.5],[-11.6,3.3,16.5],[-11.5,3.1,16.5],[-11.4,2.95,16.5],[-11.6,4.35,16.5],[-11.4,4.2,16.5],[-13.5,5,19.5],[-13.1,4.6,19],[-12.9,4.4,18.5],[-12.6,4.1,18],[-12.3,3.8,17.5],
 [-13.75,5.15,19.5],[-13.25,5.05,19],[-13,5.2,19],[-13.3,4.65,19],[-13.05,4.25,18.5],[-12.75,4.3,18],[-12.45,4.25,18],[-12.15,4.55,17.5],[-12.65,3.75,17.5],[-12.35,4.15,17.5],[-12,3.85,17],[-12.05,4.15,17],[-12.25,3.45,17],[-11.95,3.55,16.5],[-11.75,3.95,16.5],[-12.85,4.85,18.5],[-13.35,4.3,18.5],[-13.6,4.7,19],[-13,4.75,18.5],[-12.45,4.7,18],[-11.75,3.2,16.5]];
const trajStemCells = [[-6.2,-0.3,8.5],[-5.9,-0.25,8.5],[-5.6,-0.33,8.5],[-5.3,-0.28,8],[-5.1,-0.35,8],[-6.2,-0.93,11],[-5.75,-0.9,11],[-5.5,-1.26,11],[-5.75,-1.4,11],[-5.6,-1.73,11]];
const trajUpperCells = [[-4.7,-0.3,7.5],[-4.7,-0.5,7.5],[-4.3,-0.3,7],[-4.3,-0.54,7],[-4,-0.38,6.5],[-4,-0.62,6.5],[-3.7,-0.6,6.2],[-3.7,-0.9,6.2],[-3.5,-0.2,6],[-3.4,-0.7,6],[-3.4,-1,6],[-3.1,-0.7,5.6],[-3.1,-1,5.6],[-2.8,-0.6,5.3],[-2.8,-0.9,5.3],[-2.5,-0.55,5],[-2.5,-0.81,5],[-2.2,-0.48,4.7],[-2.2,-0.72,4.7],[-1.9,-0.36,4.5],[-1.9,-0.6,4.5],[-1.6,-0.23,4.2],[-1.6,-0.47,4.2],[-1.3,-0.1,3.9],[-1.3,-0.34,3.9],[-1,0.02,3.6],[-1,-0.22,3.6],[-0.7,0.12,3.3],[-0.7,-0.12,3.3],[-0.4,0.22,3],[-0.4,-0.02,3],[-0.1,0.32,2.8],[-0.1,0.08,2.8],[0.2,0.42,2.5],[0.2,0.18,2.5],[0.5,0.52,2.2],[0.5,0.28,2.2],[0.8,0.64,1.9],[0.8,0.4,1.9],[1.1,0.74,1.6],[1.1,0.5,1.6],[1.4,0.84,1.4],[1.4,0.6,1.4],[1.7,0.94,1.2],[1.7,0.7,1.2],[2,1.02,1],[2,0.78,1],[2.3,1.1,0.8],[2.3,0.86,0.8],[2.6,1.17,0.6],[2.6,0.93,0.6],[2.9,1.24,0.4],[2.9,1,0.4],[3.1,1.27,0.3],[3.1,1.03,0.3],[3.2,1.2,0.2],
 [-4.5,-0.42,7.2],[-4.15,-0.46,6.8],[-3.85,-0.65,6.4],[-3.55,-0.8,6.1],[-3.25,-0.85,5.8],[-2.95,-0.8,5.5],[-2.65,-0.72,5.2],[-2.35,-0.6,4.9],[-2.05,-0.48,4.6],[-1.75,-0.35,4.3],[-1.45,-0.22,4],[-1.15,-0.1,3.7],[-0.85,0,3.4],[-0.55,0.1,3.1],[-0.25,0.2,2.9],[0.05,0.3,2.6],[0.35,0.4,2.3],[0.65,0.5,2],[0.95,0.6,1.8],[1.25,0.7,1.5],[1.55,0.8,1.3],[1.85,0.88,1.1],[2.15,0.96,0.9],[2.45,1.03,0.7],[2.75,1.1,0.5]];
const trajLowerTumorCells = [[-5.6,-1.9,11],[-5.45,-2.1,11],[-5.3,-2.3,11],[-5.55,-2.4,11],[-5.2,-2.55,11],[-5.45,-2.6,11],[-5.2,-2.85,11],[-5.45,-2.85,11],[-5.3,-3.1,11.2],[-5.55,-3.1,11.2],[-5.45,-3.35,11.4],[-5.7,-3.35,11.4],[-5.6,-3.6,11.4],[-5.85,-3.55,11.5],[-5.85,-3.85,11.5],[-6.05,-3.7,11.6],[-6.1,-4,11.6],[-6.35,-3.8,11.7],[-6.4,-4.05,11.7],[-6.6,-3.7,11.8],[-6.65,-4,11.8],[-6.9,-3.6,12],[-6.9,-3.9,12],[-7.1,-3.5,12],[-7.2,-3.8,12],[-7.2,-4.1,12.1],[-7.45,-3.4,12.2],[-7.5,-3.7,12.2],[-7.5,-4.05,12.3],[-7.5,-4.35,12.3],[-7.75,-3.8,12.4],[-7.75,-4.1,12.4],[-7.75,-4.4,12.5],[-7.8,-4.7,12.6],[-8,-3.9,12.6],[-8,-4.2,12.6],[-8,-4.5,12.7],[-8,-4.8,12.8],[-8.2,-3.4,12.8],[-8.25,-4.1,12.8],[-8.25,-4.4,12.8],[-8.25,-4.7,12.9],[-8.2,-5,13],[-8.45,-4.4,13],[-8.5,-4.7,13],[-8.6,-4.2,13],[-8.9,-4.1,13],[-9,-4.7,13],[-9.45,-3.6,13],[-8.2,-5.3,13]];
const trajLowerAdjacentCells = [[-5.55,-1.5,11],[-5.3,-1.9,11],[-5.1,-2.2,11],[-4.95,-2.5,11],[-4.95,-2.8,11],[-5.05,-3.1,11.2],[-5.2,-3.4,11.4],[-5.35,-3.7,11.4],[-5.55,-4,11.6],[-5.95,-4.25,11.8],[-7.1,-4.46,12],[-7.3,-4.5,12],[-8.2,-5.05,13],[-8.8,-5.4,13]];
const trajOutlierCells = [[-9.55,1.27,13],[-9.3,1.3,13],[-8.9,1.75,13]];
const trajBranchA = [[-8.9,1.53],[-6.43,-0.2],[-5.7,-0.23]];
const trajBranchB = [[-6.43,-0.2],[-5.9,-1.5],[-5.55,-2.46]];
const trajXTicks = [-15,-10,-5,0];
const trajYTicks = [-3,0,3,6];

/* ---------- helpers ---------- */
const SVG_NS = 'http://www.w3.org/2000/svg';
function el(tag, attrs, parent){
  const n = document.createElementNS(SVG_NS, tag);
  for (const k in attrs) n.setAttribute(k, attrs[k]);
  parent.appendChild(n);
  return n;
}
function linear(d0, d1, r0, r1){ return v => r0 + (v - d0) * (r1 - r0) / (d1 - d0); }
function tickLine(parent, x1, y1, x2, y2, color, width){
  const l = el('line', {x1, y1, x2, y2, stroke: color || '#555', 'stroke-width': width || 1.5}, parent);
  
  
  return l;
}
function tickText(parent, x, y, s, anchor, size, transform){
  const attrs = {x, y, 'text-anchor': anchor || 'middle', style: 'font-size:' + (size || 20) + 'px'};
  if (transform) { attrs.transform = transform; delete attrs.x; delete attrs.y; }
  const t = el('text', attrs, parent);
  t.textContent = s;
  
  
  return t;
}
function axisLine(parent, x1, y1, x2, y2, color, width){
  const l = el('line', {x1, y1, x2, y2, stroke: color, 'stroke-width': width, 'stroke-linecap': 'square'}, parent);
  
  
  return l;
}
function hexToRgb(h){ return [1,3,5].map(i => parseInt(h.substr(i,2),16)); }
function mix(c1, c2, t){
  const a = hexToRgb(c1), b = hexToRgb(c2);
  return 'rgb(' + a.map((v,i) => Math.round(v + (b[i]-v)*t)).join(',') + ')';
}

/* ---------- stacked bars ---------- */
function drawStacked(groupId, geom, categories, columns, colors){
  const g = document.getElementById(groupId);
  const y = linear(0, 100, geom.y0, geom.y100);
  const frame = el('rect', {x: geom.left, y: geom.top, width: geom.right-geom.left, height: geom.bottom-geom.top, fill:'#fff', stroke:'#8a8a8a','stroke-width':2}, g);
  
  
  percentTicks.forEach(v => {
    const gl = el('line', {x1: geom.left, x2: geom.right, y1: y(v), y2: y(v), stroke:'#efefef','stroke-width':1.2}, g);
    
    
    tickLine(g, geom.left-5, y(v), geom.left, y(v), '#555', 1.5);
    tickText(g, geom.left-8, y(v)+1, String(v), 'end', 21);
  });
  categories.forEach((c, i) => {
    const cx = geom.barLeft[i] + geom.barWidth/2 + (geom.tickShift || 0);
    const gl = el('line', {x1: cx, x2: cx, y1: geom.top, y2: geom.bottom, stroke:'#efefef','stroke-width':1.2}, g);
    
    
    tickLine(g, cx, geom.bottom, cx, geom.bottom+6, '#555', 1.5);
    if (geom.rotate) tickText(g, 0, 0, c, 'end', 20, 'translate(' + cx + ',' + (geom.bottom+10) + ') rotate(-90)');
    else tickText(g, cx, geom.bottom+19, c, 'middle', 20.5);
    let top = 100;
    columns[i].forEach((val, s) => {
      if (val <= 0) return;
      const r = el('rect', {x: geom.barLeft[i], y: y(top), width: geom.barWidth, height: y(top-val)-y(top), fill: colors[s]}, g);
      
      
      top -= val;
    });
  });
}
drawStacked('panelC', {left:954,right:1225,top:591,bottom:1068,y0:1047,y100:612,barLeft:[971,1096],barWidth:111}, panelCCategories, [panelCAdjacent,panelCTumor], stackColors7);
drawStacked('panelF', {left:1409,right:1608,top:1244,bottom:1584,y0:1569,y100:1259,barLeft:[1422,1513],barWidth:82,rotate:true}, panelFCategories, [panelFX18T,panelFX23T], stackColors5);
drawStacked('panelG', {left:133,right:329,top:1718,bottom:2061,y0:2047,y100:1733.5,barLeft:[146,235.5],barWidth:81,rotate:true}, panelGCategories, [panelGX18A,panelGX23A], stackColors7);
drawStacked('panelH', {left:718,right:913,top:1706,bottom:2086,y0:2072,y100:1723,barLeft:[730,820],barWidth:80.5}, panelHCategories, [panelHAdjacent,panelHTumor], stackColors7);

/* ---------- bar panel I ---------- */
(function(){
  const g = document.getElementById('panelI');
  const y = linear(0, 6, 2108, 1847);
  const left = [1305, 1449.5];
  const w = [102.5, 103.5];
  const barColors = ['#c8d86a','#ff0000'];
  panelICategories.forEach((c, i) => {
    const r = el('rect', {x:left[i], y:y(panelIValues[i]), width:w[i], height:Math.max(2.5, 2109-y(panelIValues[i])), fill:barColors[i]}, g);
    
    
    tickLine(g, left[i]+w[i]/2, 2125, left[i]+w[i]/2, 2130);
    tickText(g, left[i]+w[i]/2, 2144, c, 'middle', 20.5);
  });
  panelITicks.forEach(v => {
    tickLine(g, 1264, y(v), 1269, y(v));
    tickText(g, 1261, y(v), String(v), 'end', 21);
  });
  axisLine(g, 1269, 1766, 1269, 2125, '#666', 2);
  axisLine(g, 1269, 2125, 1588, 2125, '#666', 2);
})();

/* ---------- UMAP ---------- */
function drawRegions(g, regions, color, sx, sy){
  regions.forEach(poly => {
    const p = el('polygon', {points: poly.map(q => sx(q[0]) + ',' + sy(q[1])).join(' '), fill:color, stroke:color, 'stroke-width':5, 'stroke-linejoin':'round'}, g);
    
    
  });
}
function drawDots(g, dots, color, sx, sy, r){
  dots.forEach(d => {
    const c = el('circle', {cx:sx(d[0]), cy:sy(d[1]), r:r, fill:color}, g);
    
    
  });
}
function umapFrame(g, b, sx, sy, xt, yt){
  xt.forEach(v => {
    tickLine(g, sx(v), b.bottom, sx(v), b.bottom+8, '#333', 2);
    tickText(g, sx(v), b.bottom+27, String(v).replace('-','−'), 'middle', 20);
  });
  yt.forEach(v => {
    tickLine(g, b.left-9, sy(v), b.left, sy(v), '#333', 2);
    tickText(g, b.left-15, sy(v), String(v).replace('-','−'), 'end', 20);
  });
  const f = el('rect', {x:b.left, y:b.top, width:b.right-b.left, height:b.bottom-b.top, fill:'none', stroke:'#000', 'stroke-width':4}, g);
  
  
}
function drawUmapFull(groupId, clip, b, sx, sy, xt, yt, withFull){
  const g = document.getElementById(groupId);
  const m = el('g', {'clip-path':'url(#'+clip+')'}, g);
  
  
  drawRegions(m, regionIL7R, '#9bcf46', sx, sy);
  drawRegions(m, regionGZMK, '#1fa79d', sx, sy);
  drawRegions(m, regionKLRD1, '#ff0000', sx, sy);
  drawRegions(m, regionFGFBP2, '#ff9800', sx, sy);
  drawRegions(m, regionMKI67, '#b068ab', sx, sy);
  drawRegions(m, regionFOXP3, '#0000ff', sx, sy);
  if (withFull) drawRegions(m, regionFOXP3Full, '#0000ff', sx, sy);
  drawRegions(m, regionCXCL13, '#7b55dc', sx, sy);
  drawDots(m, dotsIL7R, '#9bcf46', sx, sy, 3);
  drawDots(m, dotsGZMK, '#1fa79d', sx, sy, 3.5);
  drawDots(m, dotsFGFBP2, '#ff9800', sx, sy, 3);
  drawDots(m, dotsKLRD1, '#ff0000', sx, sy, 2.5);
  drawDots(m, dotsFOXP3, '#0000ff', sx, sy, 3.5);
  umapFrame(g, b, sx, sy, xt, yt);
}
drawUmapFull('panelA','clipA',{left:633,right:1017,top:43,bottom:427},linear(0,5,791,866.5),linear(0,5,327,249.25),[-10,-5,0,5,10,15],[-5,0,5,10,15],true);
drawUmapFull('panelE','clipE',{left:751,right:1120,top:1235,bottom:1602},linear(0,5,904,976.4),linear(0,3,1432.7,1346.9),[-10,-5,0,5,10,15],[-6,-3,0,3,6],false);
(function(){
  const g = document.getElementById('panelD');
  const sx = linear(0,5,228,306.4), sy = linear(0,5,1548,1458.35);
  const m = el('g', {'clip-path':'url(#clipD)'}, g);
  
  
  drawRegions(m, regionDGreen, '#9bcf46', sx, sy);
  drawRegions(m, regionDRed, '#ff0000', sx, sy);
  drawRegions(m, regionDTeal, '#1fa79d', sx, sy);
  drawRegions(m, regionDMauve, '#b068ab', sx, sy);
  drawRegions(m, regionDOrange, '#ff9800', sx, sy);
  umapFrame(g, {left:90,right:463,top:1224,bottom:1592}, sx, sy, [-5,0,5,10,15], [0,5,10,15]);
})();

/* ---------- violins ---------- */
function smoothPath(pts){
  let d = '';
  for (let i = 1; i < pts.length - 1; i++){
    const mx = (pts[i][0]+pts[i+1][0])/2, my = (pts[i][1]+pts[i+1][1])/2;
    d += 'Q' + pts[i][0] + ' ' + pts[i][1] + ' ' + mx + ' ' + my;
  }
  d += 'L' + pts[pts.length-1][0] + ' ' + pts[pts.length-1][1];
  return d;
}
(function(){
  const g = document.getElementById('panelB');
  const rows = [violinRow1,violinRow2,violinRow3,violinRow4,violinRow5,violinRow6,violinRow7];
  const panelLeft = i => 329.5 + i * 69.6;
  const panelW = 69.6;
  const rowY = linear(0, 6, 671, 1088.7);
  const halfMax = 32;
  const top = 629, bottom = 1132;
  rows.forEach((row, r) => {
    const cy = rowY(r);
    tickLine(g, 325, cy, 330, cy, '#444', 1.5);
    tickText(g, 316, cy+1, violinCellTypes[r], 'end', 20.5);
    row.forEach((shape, c) => {
      const x = p => panelLeft(c) + p * panelW;
      if (shape.every(q => q[1] === 0)){
        const ln = el('line', {x1:x(shape[0][0]), x2:x(shape[shape.length-1][0]), y1:cy, y2:cy, stroke:'#666','stroke-width':1.6}, g);
        
        
        return;
      }
      const up = shape.map(q => [x(q[0]), cy - q[1]*halfMax]);
      const dn = shape.map(q => [x(q[0]), cy + q[1]*halfMax]).reverse();
      const d = 'M' + up[0][0] + ' ' + up[0][1] + smoothPath(up) + 'L' + dn[0][0] + ' ' + dn[0][1] + smoothPath(dn) + 'Z';
      const v = el('path', {d, fill:violinColors[c], stroke:'#555', 'stroke-width':1.4, 'stroke-linejoin':'round'}, g);
      
      
    });
  });
  violinGenes.forEach((gene, c) => {
    const lft = panelLeft(c);
    const vline = el('line', {x1:lft, x2:lft, y1:top, y2:bottom, stroke:'#666', 'stroke-width':2}, g);
    
    
    const t = el('text', {transform:'translate(' + (lft+panelW/2-5) + ',620) rotate(90)', 'text-anchor':'end', style:'font-size:20.5px'}, g);
    t.textContent = gene;
    
    
    const sx = linear(0, violinAxisMax[c], lft, lft+panelW);
    for (let v = 0; v <= violinAxisMax[c]; v++) tickLine(g, sx(v), bottom, sx(v), bottom+5, '#444', 1.4);
    tickText(g, sx(violinTickLabels[c]), 1149, String(violinTickLabels[c]), 'middle', 19);
  });
  axisLine(g, 329.5, top, 817, top, '#666', 2);
  axisLine(g, 329.5, bottom, 817, bottom, '#444', 2);
  axisLine(g, 817, top, 817, bottom, '#777', 2);
})();

/* ---------- volcano ---------- */
(function(){
  const g = document.getElementById('panelJ');
  const x = linear(0, 10, 289, 481);
  const y = linear(0, 100, 2608, 2477);
  const poly = (pts, fill) => el('polygon', {points: pts.map(p => x(p[0]) + ',' + y(p[1])).join(' '), fill, stroke: fill, 'stroke-width':2, 'stroke-linejoin':'round'}, g);
  const grey = poly(volcanoNonSig, '#d8d8d8');
  
  
  const dense1 = poly(volcanoUpDense, '#e30f16');
  
  
  volcanoUp.forEach(p => {
    const a = x(p[0]), b = y(p[1]);
    const m = el('path', {d:'M'+a+' '+(b-3.4)+'l3.4 6.2h-6.8z', fill:'#e3141b'}, g);
    
    
  });
  volcanoDown.forEach(p => {
    const a = x(p[0]), b = y(p[1]);
    const m = el('path', {d:'M'+a+' '+(b+3.4)+'l3.4 -6.2h-6.8z', fill:'#2b6cb0'}, g);
    
    
  });
  volcanoClippedLog2.forEach(v => {
    const m = el('rect', {x:x(v)-3, y:y(volcanoClippedLevel)-1.3, width:6, height:2.6, fill:'#e3141b'}, g);
    
    
  });
  for (let i = 0; i < volcanoPlateau.length; i += 2){
    const l = el('line', {x1:x(volcanoPlateau[i]), x2:x(volcanoPlateau[i+1]), y1:y(volcanoPlateauLevel), y2:y(volcanoPlateauLevel), stroke:'#e3141b', 'stroke-width':5}, g);
    
    
  }
  volcanoThresholdLog2.forEach(v => {
    const l = el('line', {x1:x(v), x2:x(v), y1:2191, y2:2629, stroke:'#f2a63c','stroke-width':1.8,'stroke-dasharray':'11 4 2 4'}, g);
    
    
  });
  const h = el('line', {x1:110, x2:650, y1:y(0), y2:y(0), stroke:'#f2a63c','stroke-width':1.8,'stroke-dasharray':'11 4 2 4'}, g);
  
  
  volcanoYTicks.forEach(v => {
    tickLine(g, 105, y(v), 110, y(v), '#555', 2);
    tickText(g, 102, y(v), String(v), 'end', 20.5);
  });
  volcanoXTicks.forEach(v => {
    tickLine(g, x(v), 2629, x(v), 2634, '#555', 2);
    tickText(g, x(v), 2642, String(v), 'middle', 20);
  });
  axisLine(g, 110, 2187, 110, 2629, '#555', 2.4);
  axisLine(g, 110, 2629, 650, 2629, '#555', 2.4);
})();

/* ---------- GO bars ---------- */
const padjStops = [[3.5,'#45288f'],[5.5,'#8c2aa0'],[7,'#c3358f'],[8.2,'#f4716f'],[11,'#ecd6a0']];
function padjColor(v){
  for (let i = 1; i < padjStops.length; i++){
    if (v <= padjStops[i][0]) {
      const t = Math.max(0, (v - padjStops[i-1][0])/(padjStops[i][0]-padjStops[i-1][0]));
      return mix(padjStops[i-1][1], padjStops[i][1], t);
    }
  }
  return padjStops[padjStops.length-1][1];
}
(function(){
  const g = document.getElementById('panelK');
  const x = linear(0, 9, 1370, 1558);
  const drawFacet = (ratios, padj, top) => {
    ratios.forEach((v, i) => {
      const yy = top + i * 29.5;
      const gl = el('line', {x1:1623, x2:1700, y1:yy+13.3, y2:yy+13.3, stroke:'#f3f3f3', 'stroke-width':1.2}, g);
      
      
      const r = el('rect', {x:x(0), y:yy, width:x(v)-x(0), height:26.6, fill:padjColor(padj[i])}, g);
      
      
    });
  };
  drawFacet(goRatioBP, goPadjBP, 2194.5);
  drawFacet(goRatioCC, goPadjCC, 2649);
  goXTicks.forEach(v => {
    tickLine(g, x(v)+3, 2796, x(v)+3, 2800, '#666', 1.4);
    tickText(g, x(v)+3, 2806, String(v), 'middle', 19);
  });
})();

/* ---------- trajectory ---------- */
function drawCells(g, cells, sx, sy, colorFor, r){
  cells.forEach(c => {
    const m = el('circle', {cx:sx(c[0]), cy:sy(c[1]), r:r, fill:colorFor(c)}, g);
    
    
  });
}
function drawTrajectoryFrame(g, b, sx, sy){
  [trajBranchA, trajBranchB].forEach(path => {
    const l = el('polyline', {points:path.map(p => sx(p[0]) + ',' + sy(p[1])).join(' '), fill:'none', stroke:'#222', 'stroke-width':2.6}, g);
    
    
  });
  trajYTicks.forEach(v => {
    tickLine(g, b.left-3, sy(v), b.left, sy(v), '#555', 1.5);
    tickText(g, b.left-6, sy(v)+1, String(v).replace('-','−'), 'end', 21);
  });
  trajXTicks.forEach(v => {
    tickLine(g, sx(v), b.bottom, sx(v), b.bottom+5, '#555', 1.5);
    tickText(g, sx(v), b.bottom+20, String(v).replace('-','−'), 'middle', 21);
  });
  axisLine(g, b.left, b.top, b.left, b.bottom, '#666', 2);
  axisLine(g, b.left, b.bottom, b.right, b.bottom, '#666', 2);
}
(function(){
  const g = document.getElementById('panelL1');
  const sx = linear(0, 5, 431, 553.8), sy = linear(0, 3, 2979.5, 2894.6);
  const pt = c => mix('#132B43', '#56B1F7', c[2]/20);
  const sets = [trajTopCells, trajOutlierCells, trajUpperCells, trajStemCells, trajLowerAdjacentCells, trajLowerTumorCells];
  sets.forEach(s => drawCells(g, s, sx, sy, pt, 5.8));
  drawTrajectoryFrame(g, {left:61,right:533,top:2802,bottom:3149}, sx, sy);
})();
(function(){
  const g = document.getElementById('panelL2');
  const sx = linear(0, 5, 1011, 1133.5), sy = linear(0, 3, 2978, 2893);
  const green = () => '#9bcf1e', red = () => '#ff0000';
  drawCells(g, trajUpperCells, sx, sy, green, 5.8);
  drawCells(g, trajLowerAdjacentCells, sx, sy, green, 5.8);
  drawCells(g, trajTopCells, sx, sy, red, 5.8);
  drawCells(g, trajOutlierCells, sx, sy, red, 5.8);
  drawCells(g, trajStemCells, sx, sy, red, 5.8);
  drawCells(g, trajLowerTumorCells, sx, sy, red, 5.8);
  drawTrajectoryFrame(g, {left:642,right:1113,top:2802,bottom:3148}, sx, sy);
})();
</script>
</body>
</html>
